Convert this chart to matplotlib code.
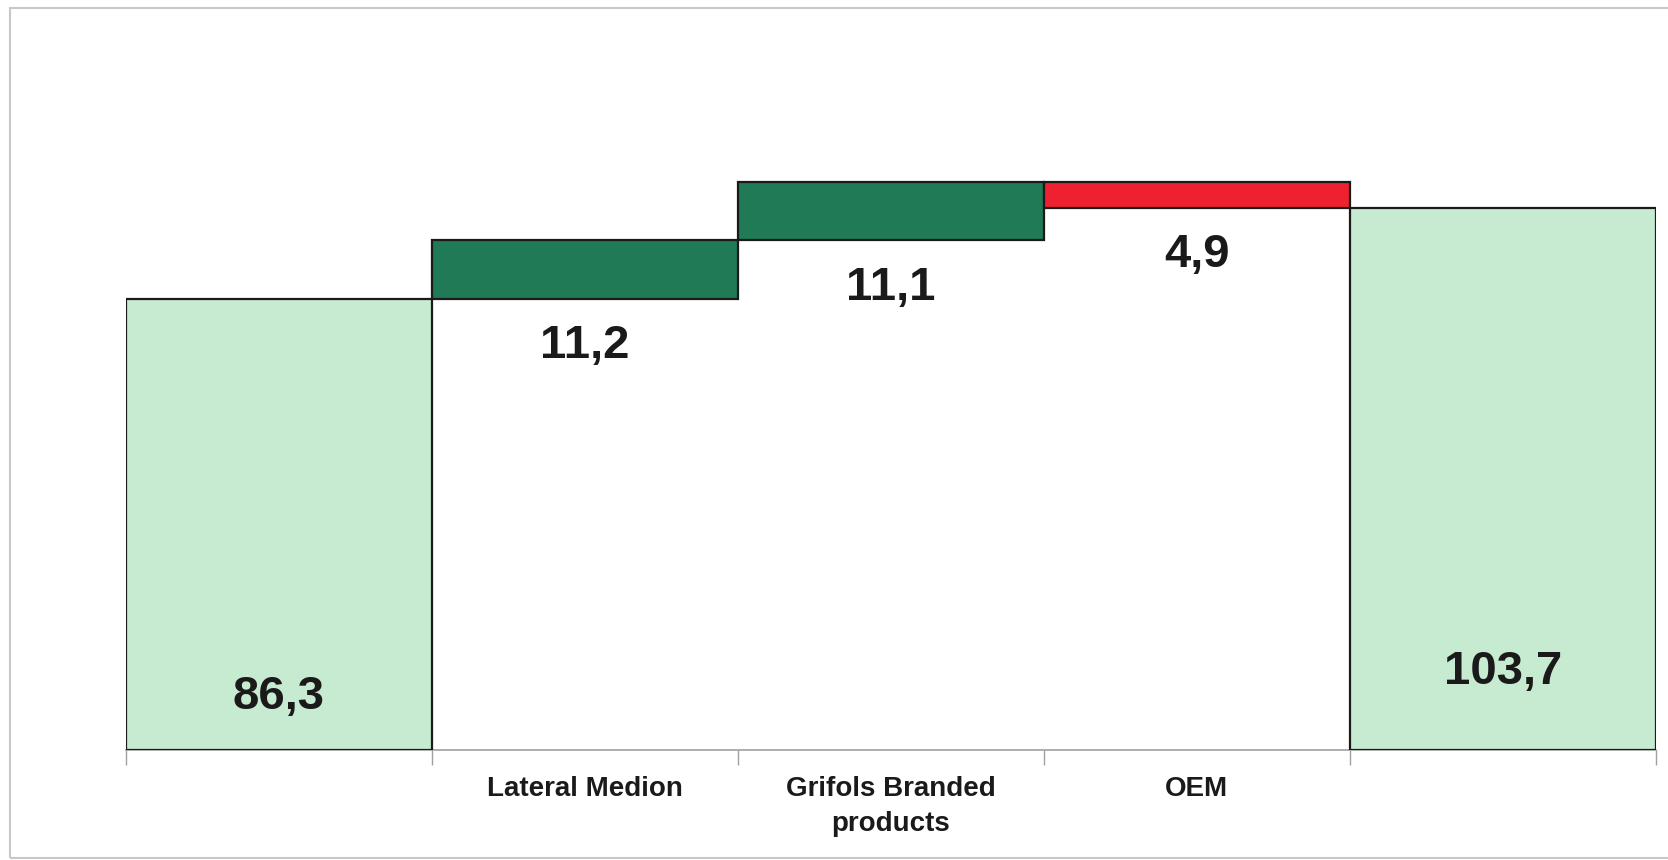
import matplotlib
matplotlib.use("Agg")
import matplotlib.pyplot as plt
from matplotlib.patches import Rectangle

# waterfall data (millions)
categories = ["", "Lateral Medion", "Grifols Branded\nproducts", "OEM", ""]
start_total = 86.3
changes = [11.2, 11.1, -4.9]
end_total = 103.7
value_labels = ["86,3", "11,2", "11,1", "4,9", "103,7"]

LIGHT_GREEN = "#c6ebd0"
DARK_GREEN = "#1f7a55"
RED = "#ee2131"
FONT = "Liberation Sans"


def build_bars():
    bottoms = [0]
    heights = [start_total]
    colors = [LIGHT_GREEN]
    level = start_total
    for c in changes:
        if c >= 0:
            bottoms.append(level)
            heights.append(c)
            colors.append(DARK_GREEN)
        else:
            bottoms.append(level + c)
            heights.append(-c)
            colors.append(RED)
        level += c
    bottoms.append(0)
    heights.append(end_total)
    colors.append(LIGHT_GREEN)
    return bottoms, heights, colors


def plot():
    fig = plt.figure(figsize=(16.68, 8.6), dpi=100)
    fig.patch.set_facecolor("white")

    # light frame around the whole chart
    fig.patches.append(Rectangle((10 / 1668, 2 / 860), 1.0, 850 / 860,
                                 transform=fig.transFigure, fill=False,
                                 edgecolor="#c8c8c8", linewidth=1.5))

    ax = fig.add_axes([125.5 / 1668, 110 / 860, 1530.5 / 1668, 627.6 / 860])
    bottoms, heights, colors = build_bars()
    x = list(range(len(categories)))
    ax.bar(x, heights, bottom=bottoms, width=1.0, color=colors,
           edgecolor="#1a1a1a", linewidth=1.6, zorder=3)

    ax.set_xlim(-0.5, len(categories) - 0.5)
    ax.set_ylim(0, 120)
    for s in ["top", "right", "left"]:
        ax.spines[s].set_visible(False)
    ax.spines["bottom"].set_color("#a0a0a0")
    ax.spines["bottom"].set_linewidth(1.2)
    ax.set_yticks([])

    ax.set_xticks(x)
    ax.set_xticklabels(categories, fontsize=20, fontweight="bold",
                       family=FONT, color="#1a1a1a", linespacing=1.45)
    ax.tick_params(axis="x", which="major", length=0, pad=19)
    ax.set_xticks([i - 0.5 for i in range(len(categories) + 1)], minor=True)
    ax.tick_params(axis="x", which="minor", length=11, color="#a0a0a0",
                   width=1.0, direction="out")

    # value labels
    for i, lab in enumerate(value_labels):
        if i == 0 or i == len(value_labels) - 1:
            y = 10.2 if i == 0 else 14.9
            ax.text(i, y, lab, ha="center", va="center", fontsize=34,
                    fontweight="bold", family=FONT, color="#1a1a1a", zorder=4)
        else:
            ax.annotate(lab, (i, bottoms[i]), xytext=(0, -43),
                        textcoords="offset points", ha="center",
                        va="baseline", fontsize=34, fontweight="bold",
                        family=FONT, color="#1a1a1a", zorder=4)

    fig.savefig("out.png", dpi=100, facecolor="white")


def main():
    plot()


if __name__ == "__main__":
    main()
